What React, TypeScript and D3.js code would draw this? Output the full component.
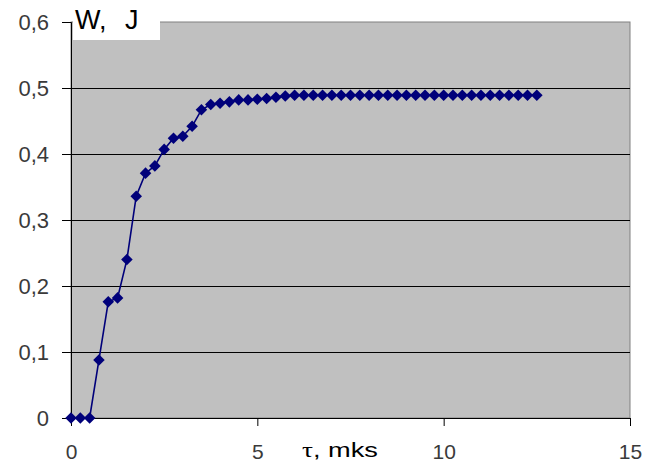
import React, { useEffect, useRef } from "react";
import * as d3 from "d3";

// time, mks
const tau = [
  0, 0.25, 0.5, 0.75, 1, 1.25, 1.5, 1.75, 2, 2.25, 2.5, 2.75, 3, 3.25, 3.5, 3.75, 4,
  4.25, 4.5, 4.75, 5, 5.25, 5.5, 5.75, 6, 6.25, 6.5, 6.75, 7, 7.25, 7.5, 7.75, 8,
  8.25, 8.5, 8.75, 9, 9.25, 9.5, 9.75, 10, 10.25, 10.5, 10.75, 11, 11.25, 11.5, 11.75,
  12, 12.25, 12.5,
];
// energy, J
const energy = [
  0, 0, 0, 0.088, 0.176, 0.182, 0.24, 0.336, 0.371, 0.382, 0.407, 0.424, 0.427, 0.442,
  0.467, 0.475, 0.477, 0.479, 0.482, 0.482, 0.483, 0.484, 0.486, 0.488, 0.489, 0.489,
  0.489, 0.489, 0.489, 0.489, 0.489, 0.489, 0.489, 0.489, 0.489, 0.489, 0.489, 0.489,
  0.489, 0.489, 0.489, 0.489, 0.489, 0.489, 0.489, 0.489, 0.489, 0.489, 0.489, 0.489,
  0.489,
];
const xTicks = [0, 5, 10, 15];
const yTicks = [0, 0.1, 0.2, 0.3, 0.4, 0.5, 0.6];
const yTickLabels = ["0", "0,1", "0,2", "0,3", "0,4", "0,5", "0,6"];

const W = 664, H = 466;
const margin = { top: 22, right: 34, bottom: 48, left: 71 };

function drawChart(node: SVGSVGElement) {
  const svg = d3.select(node);
  svg.selectAll("*").remove();

  const pw = W - margin.left - margin.right,
        ph = H - margin.top - margin.bottom;

  const x = d3.scaleLinear().domain([0, 15]).range([0, pw]),
        y = d3.scaleLinear().domain([0, 0.6]).range([ph, 0]);

  const g = svg.append("g")
    .attr("transform", `translate(${margin.left},${margin.top})`);

  // plot area
  g.append("rect")
    .attr("width", pw).attr("height", ph)
    .attr("fill", "#c0c0c0")
    .attr("stroke", "#808080").attr("stroke-width", 1);

  // grid lines
  g.selectAll(".grid")
    .data(yTicks.filter(d => d > 0 && d < 0.6))
    .enter().append("line")
      .attr("class", "grid")
      .attr("x1", 0).attr("x2", pw)
      .attr("y1", d => Math.round(y(d)) + 0.5)
      .attr("y2", d => Math.round(y(d)) + 0.5)
      .attr("stroke", "#000").attr("stroke-width", 1.2);

  // y axis
  const yAxis = d3.axisLeft(y)
    .tickValues(yTicks)
    .tickSize(9)
    .tickPadding(13)
    .tickFormat((d, i) => yTickLabels[i]);
  const ya = g.append("g").call(yAxis);
  ya.select(".domain").attr("stroke", "#000").attr("d", `M-9,0.5H0.5V${ph}`);
  ya.selectAll("line").attr("stroke", "#000");
  ya.selectAll("text")
    .attr("font-family", "'Liberation Sans', Arial, sans-serif")
    .attr("font-size", 22)
    .attr("fill", "#3a3a3a");

  // x axis
  const xAxis = d3.axisBottom(x)
    .tickValues(xTicks)
    .tickSize(8)
    .tickPadding(18)
    .tickFormat(d3.format("d"));
  const xa = g.append("g").attr("transform", `translate(0,${ph})`).call(xAxis);
  xa.select(".domain").attr("stroke", "#000").attr("d", `M0,0.5H${pw}`);
  xa.selectAll("line").attr("stroke", "#000");
  xa.selectAll("text")
    .attr("font-family", "'Liberation Sans', Arial, sans-serif")
    .attr("font-size", 21)
    .attr("fill", "#3a3a3a");

  // series
  const pts = tau.map((t, i) => [t, energy[i]] as [number, number]);
  const line = d3.line<[number, number]>()
    .x(d => x(d[0]))
    .y(d => y(d[1]));
  g.append("path")
    .attr("d", line(pts))
    .attr("fill", "none")
    .attr("stroke", "#00007a")
    .attr("stroke-width", 1.6);

  const diamond = d3.symbol().type(d3.symbolDiamond2).size(85);
  g.selectAll(".pt")
    .data(pts)
    .enter().append("path")
      .attr("class", "pt")
      .attr("transform", d => `translate(${x(d[0])},${y(d[1])})`)
      .attr("d", diamond())
      .attr("fill", "#00007a");

  // title box on y axis
  svg.append("rect")
    .attr("x", 73).attr("y", 0)
    .attr("width", 87).attr("height", 40)
    .attr("fill", "#fff");
  const yt = svg.append("text")
    .attr("y", 29)
    .attr("font-family", "'Liberation Sans', Arial, sans-serif")
    .attr("font-size", 27)
    .attr("fill", "#000");
  yt.append("tspan").attr("x", 75).text("W,");
  yt.append("tspan").attr("x", 125).text("J");

  // x axis title
  const xt = svg.append("text")
    .attr("x", 302).attr("y", 457)
    .attr("font-size", 21)
    .attr("fill", "#000")
    .attr("textLength", 76)
    .attr("lengthAdjust", "spacingAndGlyphs");
  xt.append("tspan")
    .attr("font-family", "'Liberation Serif', 'Times New Roman', serif")
    .text("τ");
  xt.append("tspan")
    .attr("font-family", "'Liberation Sans', Arial, sans-serif")
    .text(", mks");
}

export default function App() {
  const ref = useRef<SVGSVGElement>(null);
  useEffect(() => { if (ref.current) drawChart(ref.current); });
  return (
    <svg ref={ref} width={W} height={H}
         style={{ position: "absolute", left: 0, top: 0, background: "#fff" }} />
  );
}
